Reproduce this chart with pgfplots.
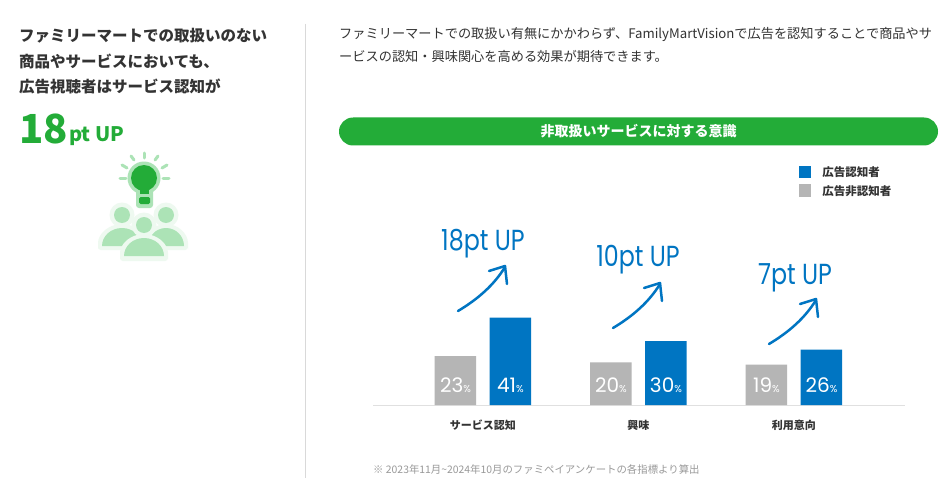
\documentclass[border=0pt]{standalone}
\usepackage{pgfplots}
\pgfplotsset{compat=1.18}
\usepackage{fontspec}
\setmainfont{Noto Sans CJK JP}
\newfontfamily\numfont{Poppins}
\definecolor{fmgreen}{HTML}{23AC38}
\definecolor{fmblue}{HTML}{0075C2}
\definecolor{fmgray}{HTML}{B5B5B5}
\definecolor{fmtext}{HTML}{333333}
\definecolor{iconlight}{HTML}{ACE3B6}
\definecolor{iconhalo}{HTML}{EEF9F0}
\newcommand{\fs}[1]{\fontsize{#1}{#1}\selectfont}

\begin{document}
\begin{tikzpicture}[x=1pt, y=-1pt]
\useasboundingbox[fill=white] (0,0) rectangle (950,500);

% left column
\draw[color=black!15, line width=1pt] (305,24) -- (305,478);
\begin{scope}[every node/.style={anchor=west, inner sep=0pt, text=fmtext, font=\fs{15.5}\bfseries}]
\node at (19,36) {ファミリーマートでの取扱いのない};
\node at (19,61) {商品やサービスにおいても、};
\node at (19,86) {広告視聴者はサービス認知が};
\end{scope}
\node[anchor=base west, inner sep=0pt, text=fmgreen, font=\fs{40}\bfseries] at (19,143) {18};
\node[anchor=base west, inner sep=0pt, text=fmgreen, font=\fs{20}\bfseries] at (69,142) {pt UP};

% icon
\foreach \cx/\cy/\bl/\br in {122/215/102/142, 166/215/148/186} {
  \fill[iconhalo] (\cx,\cy) circle (12.5);
  \fill[iconhalo, rounded corners=3pt] (\bl-4,250) -- (\bl-4,246) arc[start angle=180, end angle=360, x radius=\cx-\bl+4, y radius=22] -- (2*\cx-\bl+4,250) -- cycle;
  \fill[iconlight] (\cx,\cy) circle (8);
  \fill[iconlight] (\bl,246) arc[start angle=180, end angle=360, x radius=\cx-\bl, y radius=18] -- cycle;
}
\fill[iconhalo] (144,225) circle (12.5);
\fill[iconhalo, rounded corners=3pt] (120,261) -- (120,256) arc[start angle=180, end angle=360, x radius=24, y radius=22] -- (168,261) -- cycle;
\fill[iconlight] (144,225) circle (8);
\fill[iconlight] (124,256) arc[start angle=180, end angle=360, x radius=20, y radius=18] -- cycle;
\fill[iconlight] (144,178) circle (16.5);
\fill[iconlight, rounded corners=3pt] (136,188) rectangle (153,208);
\fill[fmgreen] (144,178) circle (13);
\fill[fmgreen] (140,186) rectangle (149,194);
\fill[fmgreen, rounded corners=1.5pt] (139,197) rectangle (150,204);
\foreach \a/\b/\c/\d in {120/178/126/178, 163/178/169/178, 122/165/127/168, 162/168/167/165, 131/156/134/160, 155/160/158/156, 144/153/144/158} {
  \draw[iconlight, line width=3pt, line cap=round] (\a,\b) -- (\c,\d);
}

% right column texts
\begin{scope}[every node/.style={anchor=west, inner sep=0pt, text=fmtext, font=\fs{13.2}}]
\node at (339,34) {ファミリーマートでの取扱い有無にかかわらず、FamilyMartVisionで広告を認知することで商品やサ};
\node at (339,56) {ービスの認知・興味関心を高める効果が期待できます。};
\end{scope}
\fill[fmgreen, rounded corners=14pt] (339,117.5) rectangle (938,145.5);
\node[text=white, font=\fs{14}\bfseries, inner sep=0pt] at (638.5,131.5) {非取扱いサービスに対する意識};
\node[anchor=west, inner sep=0pt, text=black!40, font=\fs{10.4}] at (373,470) {※ 2023年11月\textasciitilde 2024年10月のファミペイアンケートの各指標より算出};

\begin{scope}[y=1pt]
\begin{axis}[
    at={(373pt,-405pt)}, anchor=south west,
    scale only axis,
    width=532pt, height=240pt,
    xmin=-0.707, xmax=2.714,
    ymin=0, ymax=112.7,
    axis x line=bottom,
    axis y line=none,
    axis line style={color=black!12, line width=1pt, -},
    xtick={0,1,2},
    xticklabels={サービス認知,興味,利用意向},
    xticklabel style={font=\fs{11}\bfseries, text=fmtext, yshift=-7pt},
    tick style={draw=none},
    ybar,
    bar width=41.5pt,
    clip=false,
    reverse legend,
    legend cell align=left,
    legend style={draw=none, fill=none, at={(axis cs:2.03,113.1)}, anchor=north west,
      font=\fs{11.5}\bfseries, text=fmtext, row sep=3.5pt, inner sep=0pt,
      /tikz/column 1/.style={column sep=9pt}},
    legend image code/.code={\fill[#1] (0pt,-6pt) rectangle (12.5pt,6.5pt);},
    visualization depends on=y \as \rawy,
    /pgf/number format/assume math mode=true,
    nodes near coords={\numfont\fs{20}\pgfmathprintnumber{\pgfplotspointmeta}\fs{10}\%},
    nodes near coords style={anchor=center, text=white, inner sep=0pt,
      yshift={20pt-\rawy*2.13pt}},
]
\addplot[fill=fmgray, draw=none, bar shift=-27.5pt] coordinates {(0,23) (1,20) (2,19)};
\addplot[fill=fmblue, draw=none, bar shift=27.5pt] coordinates {(0,41) (1,30) (2,26)};
\legend{広告非認知者,広告認知者}
\end{axis}
\end{scope}

% arrows and pt UP labels
\foreach \sx/\sy/\lab/\lx/\ly in {458/311/18pt UP/483/244, 613/328/10pt UP/638/260, 769/344/7pt UP/795/278} {
  \draw[fmblue, line width=2.5pt, line cap=round, line join=round]
    (\sx,\sy) .. controls (\sx+20,\sy-12) and (\sx+36,\sy-26) .. (\sx+47,\sy-44);
  \draw[fmblue, line width=2.5pt, line cap=round, line join=round]
    (\sx+31,\sy-40) -- (\sx+47,\sy-45) -- (\sx+49,\sy-27);
  \node[text=fmblue, font=\numfont\fs{29}, inner sep=0pt, xscale=0.82] at (\lx,\ly) {\lab};
}
\end{tikzpicture}
\end{document}
